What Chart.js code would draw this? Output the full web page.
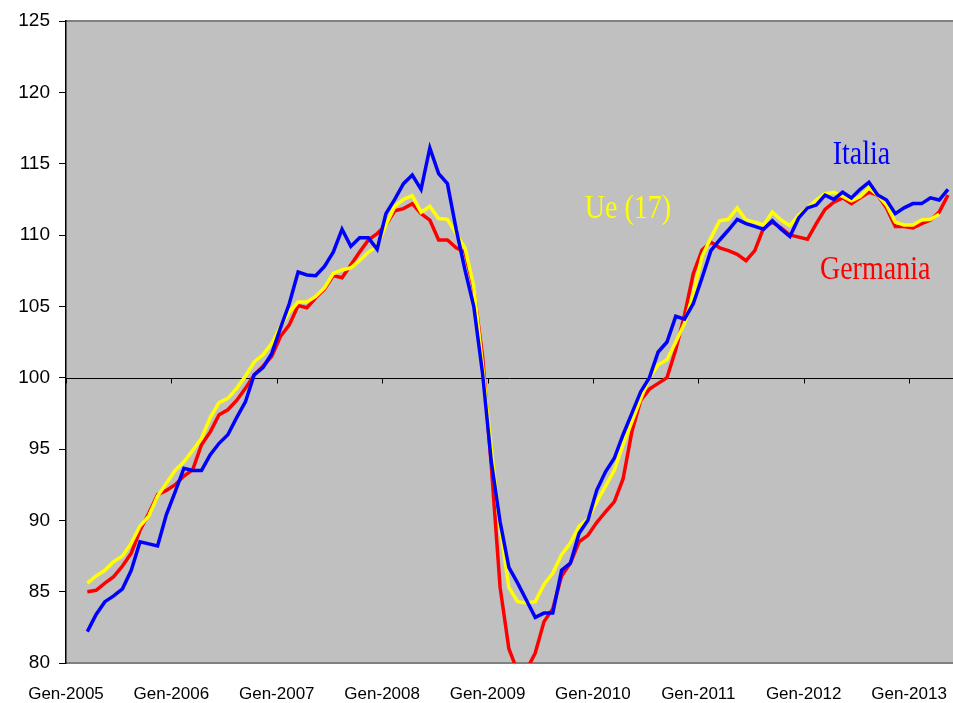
<!DOCTYPE html>
<html>
<head>
<meta charset="utf-8">
<script src="https://cdn.jsdelivr.net/npm/chart.js@4.4.1/dist/chart.umd.min.js"></script>
<style>
  html, body { margin: 0; padding: 0; background: #ffffff; }
  #wrap { width: 953px; height: 703px; }
</style>
</head>
<body>
<div id="wrap"><canvas id="c" width="953" height="703"></canvas></div>
<script>
// Month index 0 = Gen-2005; series start in March 2005 (index 2), dated mid-month
const firstMonth = 2;
const midMonth = 0.43;
const yearLabels = ["Gen-2005","Gen-2006","Gen-2007","Gen-2008","Gen-2009","Gen-2010","Gen-2011","Gen-2012","Gen-2013"];
const yTicks = [80, 85, 90, 95, 100, 105, 110, 115, 120, 125];

const italia = [
  82.2, 83.4, 84.3, 84.7, 85.2, 86.5, 88.5, 88.35, 88.2, 90.4,
  92.0, 93.65, 93.5, 93.5, 94.6, 95.4, 96.0, 97.2, 98.3, 100.2,
  100.7, 101.7, 103.5, 105.2, 107.4, 107.2, 107.15, 107.8, 108.8, 110.4,
  109.2, 109.8, 109.8, 109.0, 111.5, 112.5, 113.6, 114.2, 113.2, 116.1,
  114.3, 113.6, 110.4, 107.55, 105.0, 100.3, 94.1, 89.9, 86.7, 85.6,
  84.4, 83.2, 83.5, 83.5, 86.5, 87.0, 89.1, 90.0, 92.1, 93.4,
  94.35, 96.0, 97.5, 99.0, 100.0, 101.8, 102.5, 104.3, 104.1, 105.2,
  107.0, 108.9, 109.65, 110.35, 111.1, 110.8, 110.6, 110.4, 111.0, 110.4,
  109.9, 111.2, 111.9, 112.1, 112.8, 112.5, 113.0, 112.6, 113.2, 113.7,
  112.8, 112.45, 111.5, 111.9, 112.2, 112.2, 112.6, 112.45, 113.2
];
const germania = [
  85.0, 85.1, 85.6, 86.05, 86.8, 87.7, 89.3, 90.5, 91.8, 92.1,
  92.5, 93.1, 93.55, 95.3, 96.2, 97.4, 97.75, 98.4, 99.25, 100.2,
  100.8, 101.5, 102.9, 103.7, 105.05, 104.9, 105.6, 106.2, 107.15, 107.0,
  107.9, 108.8, 109.65, 110.1, 110.7, 111.7, 111.85, 112.2, 111.5, 111.05,
  109.65, 109.65, 109.1, 108.8, 106.2, 101.5, 93.8, 85.3, 81.0, 79.4,
  79.5, 80.7, 82.9, 83.8, 86.1, 87.0, 88.5, 88.95, 89.85, 90.6,
  91.3, 92.9, 96.2, 98.4, 99.2, 99.6, 100.0, 101.95, 104.4, 107.3,
  108.95, 109.5, 109.1, 108.9, 108.65, 108.2, 108.9, 110.5, 110.9, 110.5,
  110.0, 109.85, 109.7, 110.8, 111.8, 112.3, 112.6, 112.2, 112.6, 113.0,
  112.8, 111.9, 110.6, 110.6, 110.5, 110.8, 111.05, 111.6, 112.8
];
const ue17 = [
  85.6, 86.1, 86.5, 87.1, 87.5, 88.4, 89.6, 90.3, 91.7, 92.6,
  93.5, 94.1, 94.9, 95.75, 97.2, 98.25, 98.55, 99.25, 100.1, 101.1,
  101.6, 102.4, 103.6, 104.6, 105.3, 105.3, 105.7, 106.3, 107.3, 107.55,
  107.7, 108.2, 108.8, 109.2, 110.7, 112.0, 112.5, 112.75, 111.6, 112.0,
  111.15, 111.1, 110.1, 109.1, 106.4, 100.8, 95.0, 89.5, 85.3, 84.3,
  84.2, 84.3, 85.5, 86.3, 87.6, 88.4, 89.6, 90.1, 91.3, 92.4,
  93.5, 95.3, 96.9, 98.5, 100.0, 100.9, 101.25, 102.5, 103.8, 105.9,
  108.5, 109.8, 111.0, 111.1, 111.9, 111.05, 110.9, 110.7, 111.6, 111.05,
  110.65, 111.4, 111.9, 112.45, 112.9, 113.0, 112.7, 112.4, 112.7, 113.3,
  112.8, 112.1, 110.9, 110.7, 110.7, 111.05, 111.1, 111.45
];

// series name labels placed in data units (month index, value at text baseline)
const seriesLabels = [
  { text: "Italia",   color: "#0000FF", month: 87.3,  value: 115.0 },
  { text: "Ue (17)",  color: "#FFFF00", month: 59.07, value: 111.2 },
  { text: "Germania", color: "#FF0000", month: 85.85, value: 106.9 }
];

function toPoints(arr) {
  return arr.map((v, i) => ({ x: firstMonth + i + midMonth, y: v }));
}

const plotArea = {
  id: 'plotArea',
  beforeDraw(chart) {
    const { ctx, chartArea: a } = chart;
    ctx.save();
    ctx.fillStyle = '#C0C0C0';
    ctx.fillRect(a.left, a.top, a.right - a.left, a.bottom - a.top);
    ctx.strokeStyle = '#808080';
    ctx.lineWidth = 2;
    ctx.beginPath();
    ctx.moveTo(a.left, a.top); ctx.lineTo(a.right, a.top);
    ctx.moveTo(a.left, a.bottom); ctx.lineTo(a.right, a.bottom);
    ctx.stroke();
    ctx.restore();
  },
  beforeDatasetsDraw(chart) {
    const { ctx, chartArea: a, scales } = chart;
    const y100 = Math.round(scales.y.getPixelForValue(100)) + 0.5;
    ctx.save();
    ctx.strokeStyle = '#000000';
    ctx.lineWidth = 1;
    ctx.beginPath();
    ctx.moveTo(a.left, y100); ctx.lineTo(a.right, y100);
    yearLabels.forEach((_, k) => {
      const px = Math.round(scales.x.getPixelForValue(k * 12)) + 0.5;
      ctx.moveTo(px, y100); ctx.lineTo(px, y100 + 5);
    });
    ctx.stroke();
    ctx.restore();
  },
  afterDatasetsDraw(chart) {
    const { ctx, scales } = chart;
    ctx.save();
    ctx.font = '28px "Liberation Serif", "Times New Roman", serif';
    ctx.textBaseline = 'alphabetic';
    ctx.textAlign = 'left';
    seriesLabels.forEach(l => {
      const px = scales.x.getPixelForValue(l.month);
      const py = scales.y.getPixelForValue(l.value);
      ctx.save();
      ctx.translate(px, py);
      ctx.scale(1, 1.18);
      ctx.fillStyle = l.color;
      ctx.fillText(l.text, 0, 0);
      ctx.restore();
    });
    ctx.restore();
  }
};

new Chart(document.getElementById('c'), {
  type: 'line',
  data: {
    datasets: [
      { label: 'Italia', data: toPoints(italia), borderColor: '#0000FF', borderWidth: 3.5, pointRadius: 0, tension: 0, fill: false },
      { label: 'Ue (17)', data: toPoints(ue17), borderColor: '#FFFF00', borderWidth: 3.5, pointRadius: 0, tension: 0, fill: false },
      { label: 'Germania', data: toPoints(germania), borderColor: '#FF0000', borderWidth: 3.5, pointRadius: 0, tension: 0, fill: false }
    ]
  },
  options: {
    responsive: false,
    animation: false,
    devicePixelRatio: 1,
    layout: { padding: { top: 21, right: 0, left: 0, bottom: 0 } },
    plugins: { legend: { display: false }, tooltip: { enabled: false } },
    scales: {
      x: {
        type: 'linear',
        min: 0,
        max: 101,
        afterBuildTicks(scale) { scale.ticks = yearLabels.map((_, k) => ({ value: k * 12 })); },
        afterFit(scale) { scale.height = 40; scale.paddingRight = 0; scale.paddingLeft = 0; },
        grid: { display: false },
        border: { display: false },
        ticks: {
          autoSkip: false,
          maxRotation: 0,
          padding: 13,
          color: '#000000',
          font: { family: '"Liberation Sans", Arial, sans-serif', size: 17 },
          callback: (v) => yearLabels[Math.round(v / 12)]
        }
      },
      y: {
        min: 80,
        max: 125,
        afterBuildTicks(scale) { scale.ticks = yTicks.map(v => ({ value: v })); },
        afterFit(scale) { scale.width = 66; },
        grid: { drawOnChartArea: false, drawTicks: true, tickLength: 7, color: '#000000' },
        border: { display: true, color: '#000000', width: 1.5 },
        ticks: {
          padding: 9,
          color: '#000000',
          font: { family: '"Liberation Sans", Arial, sans-serif', size: 19 }
        }
      }
    }
  },
  plugins: [plotArea]
});
</script>
</body>
</html>
